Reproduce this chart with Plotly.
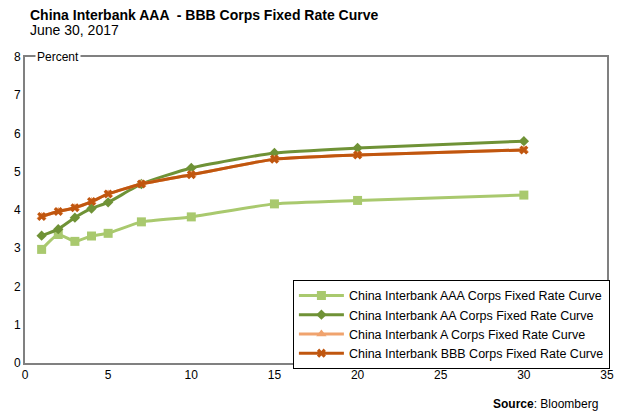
import plotly.graph_objects as go

tenors = [1, 2, 3, 4, 5, 7, 10, 15, 20, 30]
aaa = [2.97, 3.36, 3.18, 3.32, 3.39, 3.69, 3.82, 4.16, 4.25, 4.39]
aa = [3.33, 3.50, 3.80, 4.04, 4.20, 4.68, 5.10, 5.49, 5.62, 5.80]
a_ = [3.83, 3.96, 4.06, 4.22, 4.42, 4.68, 4.92, 5.33, 5.44, 5.57]
bbb = [3.83, 3.96, 4.06, 4.22, 4.42, 4.68, 4.92, 5.33, 5.44, 5.57]

names = [
    "China Interbank AAA Corps Fixed Rate Curve",
    "China Interbank AA Corps Fixed Rate Curve",
    "China Interbank A Corps Fixed Rate Curve",
    "China Interbank BBB Corps Fixed Rate Curve",
]

FONT = "Liberation Sans, Arial, sans-serif"
fig = go.Figure()
styles = [
    (aaa, "#A9C96E", "square", 9),
    (aa, "#6F9236", "diamond", 8),
    (a_, "#F0A36E", "triangle-up", 9),
    (bbb, "#C0560F", "x", 8),
]
for (vals, color, sym, sz), nm in zip(styles, names):
    fig.add_trace(go.Scatter(
        x=tenors, y=vals, name=nm, mode="lines+markers",
        line=dict(color=color, width=3, shape="spline", smoothing=0.5),
        marker=dict(symbol=sym, size=sz, color=color),
    ))

fig.update_layout(
    width=618, height=414,
    margin=dict(l=25, r=11, t=57, b=51, autoexpand=False),
    paper_bgcolor="white", plot_bgcolor="white",
    font=dict(family=FONT, size=12, color="#000"),
    showlegend=True,
    legend=dict(
        x=1.005, y=0.272, xanchor="right", yanchor="top",
        bordercolor="#000", borderwidth=1, bgcolor="white",
        font=dict(size=12.5, family=FONT), tracegroupgap=0,
        itemwidth=45,
    ),
    xaxis=dict(range=[0, 35], dtick=5, showgrid=False, zeroline=False,
               showline=True, linecolor="#808080", linewidth=2, mirror=True,
               ticks="", tickfont=dict(size=12), automargin=False),
    yaxis=dict(range=[0, 8], dtick=1, showgrid=False, zeroline=False,
               showline=True, linecolor="#808080", linewidth=2, mirror=True,
               ticks="", tickfont=dict(size=12), automargin=False),
    annotations=[
        dict(text="<b>China Interbank AAA  - BBB Corps Fixed Rate Curve</b>",
             xref="paper", yref="paper", x=0.005, y=1.137, xanchor="left", yanchor="middle",
             showarrow=False, font=dict(size=14, family=FONT)),
        dict(text="June 30, 2017", xref="paper", yref="paper", x=0.005, y=1.088,
             xanchor="left", yanchor="middle", showarrow=False, font=dict(size=14, family=FONT)),
        dict(text="Percent", xref="paper", yref="paper", x=0.018, y=1.0,
             xanchor="left", yanchor="middle", showarrow=False, bgcolor="white",
             font=dict(size=12, family=FONT)),
        dict(text="<b>Source</b>: Bloomberg", xref="paper", yref="paper", x=0.988, y=-0.134,
             xanchor="right", yanchor="middle", showarrow=False, font=dict(size=12, family=FONT)),
    ],
)
fig.write_html("out.html", config={"displayModeBar": False},
               post_script="document.body.style.margin='0';document.body.style.overflow='hidden';")
